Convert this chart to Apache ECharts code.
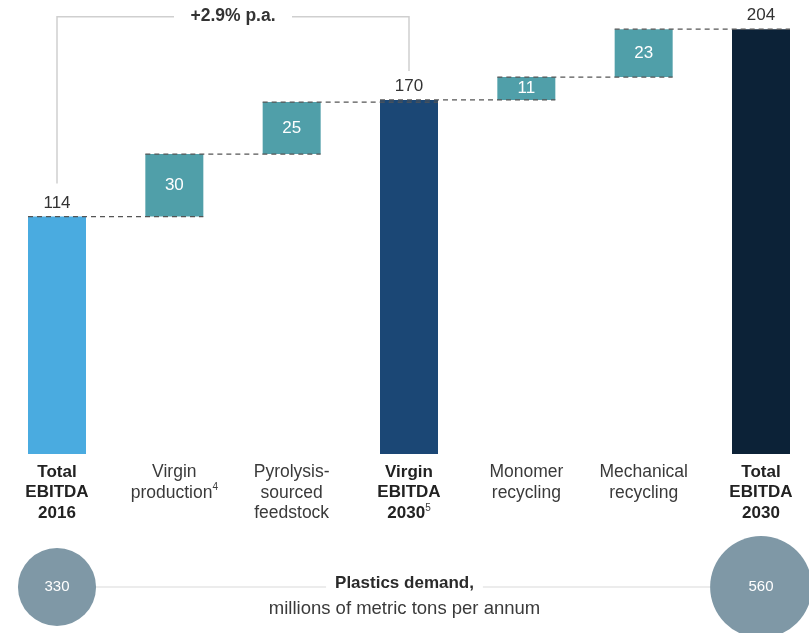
<!DOCTYPE html>
<html>
<head>
<meta charset="utf-8">
<script src="https://cdn.jsdelivr.net/npm/echarts@6/dist/echarts.min.js"></script>
<style>
    html, body { margin: 0; padding: 0; background: #fff; }
    #chart { width: 809px; height: 633px; }
</style>
</head>
<body>
<div id="chart"></div>
<script>
    // EBITDA waterfall, $ billion
    var categories = ['Total\nEBITDA\n2016', 'Virgin\nproduction', 'Pyrolysis-\nsourced\nfeedstock',
        'Virgin\nEBITDA\n2030', 'Monomer\nrecycling', 'Mechanical\nrecycling', 'Total\nEBITDA\n2030']
    var footnotes = ['', '4', '', '5', '', '', '']
    var values = [114, 30, 25, 170, 11, 23, 204]
    var isTotal = [true, false, false, true, false, false, true]
    var growthLabel = '+2.9% p.a.'

    // plastics demand, millions of metric tons per annum
    var demandIndex = [0, 6]
    var demandValues = [330, 560]

    var colors = {
        total2016: '#4aabe0',
        step: '#509fa9',
        virgin: '#1b4775',
        total2030: '#0c2237'
    }
    var barColors = [colors.total2016, colors.step, colors.step, colors.virgin, colors.step, colors.step, colors.total2030]
    var BAR_W = 58
    var FONT = '"Liberation Sans", Arial, Helvetica, sans-serif'

    // invisible base + running level for the dashed connectors
    var base = []
    var levels = []
    var running = 0
    values.forEach(function (v, i) {
        if (isTotal[i]) {
            base.push(0)
            running = v
        } else {
            base.push(running)
            running += v
        }
        levels.push(running)
    })
    var connectors = []
    for (var i = 0; i < values.length - 1; i++) {
        connectors.push([i, levels[i]])
    }

    var chart = echarts.init(document.getElementById('chart'))

    chart.setOption({
        animation: false,
        textStyle: { fontFamily: FONT },
        grid: [
            { left: 57, right: 48, top: 0, height: 454 },
            { left: 57, right: 48, top: 577, height: 20 }
        ],
        xAxis: [
            {
                type: 'category',
                gridIndex: 0,
                boundaryGap: false,
                data: categories,
                axisLine: { show: false },
                axisTick: { show: false },
                axisLabel: {
                    margin: 8,
                    interval: 0,
                    formatter: function (val, idx) {
                        var style = isTotal[idx] ? 'b' : 'n'
                        var lines = val.split('\n').map(function (l) { return '{' + style + '|' + l + '}' })
                        if (footnotes[idx]) {
                            lines[lines.length - 1] += '{sup|' + footnotes[idx] + '}'
                        }
                        return lines.join('\n')
                    },
                    rich: {
                        n: { fontSize: 17.5, color: '#3a3a3a', lineHeight: 20.5, fontFamily: FONT },
                        b: { fontSize: 17, color: '#222', lineHeight: 20.5, fontWeight: 'bold', fontFamily: FONT },
                        sup: { fontSize: 10, color: '#3a3a3a', lineHeight: 20.5, verticalAlign: 'top', padding: [0, 0, 7, 0], fontFamily: FONT }
                    }
                }
            },
            {
                type: 'category',
                gridIndex: 1,
                boundaryGap: false,
                data: categories,
                show: false
            }
        ],
        yAxis: [
            { type: 'value', gridIndex: 0, min: 0, max: 218, show: false, splitLine: { show: false } },
            { type: 'value', gridIndex: 1, min: -1, max: 1, show: false, splitLine: { show: false } }
        ],
        graphic: [
            {
                type: 'text',
                left: 'center',
                top: 575,
                z: 10,
                style: {
                    text: 'Plastics demand,',
                    font: 'bold 17px ' + FONT,
                    fill: '#2a2a2a',
                    backgroundColor: '#fff',
                    padding: [0, 9]
                }
            },
            {
                type: 'text',
                left: 'center',
                top: 599,
                z: 10,
                style: {
                    text: 'millions of metric tons per annum',
                    font: '18.5px ' + FONT,
                    fill: '#3a3a3a'
                }
            }
        ],
        series: [
            {
                name: 'base',
                type: 'bar',
                stack: 'ebitda',
                barWidth: BAR_W,
                silent: true,
                itemStyle: { color: 'transparent' },
                data: base
            },
            {
                name: 'EBITDA',
                type: 'bar',
                stack: 'ebitda',
                barWidth: BAR_W,
                data: values.map(function (v, i) {
                    return {
                        value: v,
                        itemStyle: { color: barColors[i] },
                        label: isTotal[i]
                            ? { show: true, position: 'top', distance: 5, color: '#333', fontSize: 17 }
                            : { show: true, position: 'inside', color: '#fff', fontSize: 17 }
                    }
                })
            },
            {
                name: 'connectors',
                type: 'custom',
                z: 5,
                silent: true,
                data: connectors,
                renderItem: function (params, api) {
                    var i = api.value(0)
                    var lv = api.value(1)
                    var p1 = api.coord([i, lv])
                    var p2 = api.coord([i + 1, lv])
                    return {
                        type: 'line',
                        shape: { x1: p1[0] - BAR_W / 2, y1: p1[1], x2: p2[0] + BAR_W / 2, y2: p2[1] },
                        style: { stroke: '#555', lineWidth: 1.2, lineDash: [5, 4] }
                    }
                }
            },
            {
                name: 'growth',
                type: 'custom',
                z: 4,
                silent: true,
                data: [[0, values[0], 3, values[3], 210]],
                renderItem: function (params, api) {
                    var a = api.coord([api.value(0), api.value(1)])
                    var b = api.coord([api.value(2), api.value(3)])
                    var topY = api.coord([0, api.value(4)])[1]
                    var mid = (a[0] + b[0]) / 2
                    var gap = 59
                    var st = { stroke: '#cfcfcf', lineWidth: 1.5, fill: null }
                    return {
                        type: 'group',
                        children: [
                            { type: 'polyline', shape: { points: [[a[0], a[1] - 33], [a[0], topY], [mid - gap, topY]] }, style: st },
                            { type: 'polyline', shape: { points: [[mid + gap, topY], [b[0], topY], [b[0], b[1] - 29]] }, style: st },
                            {
                                type: 'text',
                                x: mid, y: topY,
                                style: {
                                    text: growthLabel, align: 'center', verticalAlign: 'middle',
                                    font: 'bold 17.5px ' + FONT, fill: '#333'
                                }
                            }
                        ]
                    }
                }
            },
            {
                name: 'demand line',
                type: 'line',
                xAxisIndex: 1,
                yAxisIndex: 1,
                symbol: 'none',
                silent: true,
                z: 1,
                lineStyle: { color: '#dadada', width: 1.2 },
                data: [[demandIndex[0], 0], [demandIndex[1], 0]]
            },
            {
                name: 'Plastics demand',
                type: 'scatter',
                xAxisIndex: 1,
                yAxisIndex: 1,
                z: 3,
                data: demandIndex.map(function (x, i) { return [x, 0, demandValues[i]] }),
                symbolSize: function (d) { return 4.3 * Math.sqrt(d[2]) },
                itemStyle: { color: '#7f98a6', opacity: 1 },
                label: {
                    show: true,
                    position: 'inside',
                    color: '#fff',
                    fontSize: 15,
                    formatter: function (p) { return p.value[2] }
                }
            }
        ]
    })
</script>
</body>
</html>
